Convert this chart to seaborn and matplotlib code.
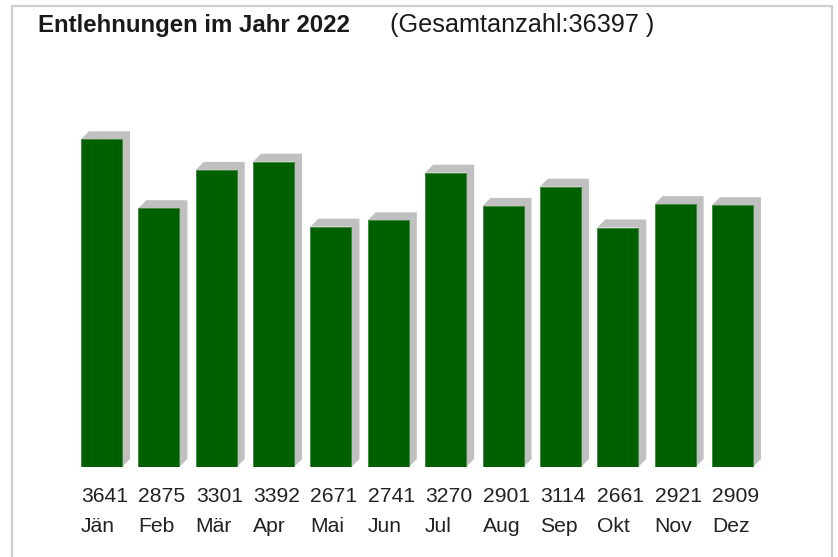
import matplotlib
matplotlib.use("Agg")
import matplotlib.pyplot as plt
import seaborn as sns
import pandas as pd
from matplotlib.patches import Polygon, Rectangle

# Monthly loans 2022
months = ['Jän', 'Feb', 'Mär', 'Apr', 'Mai', 'Jun', 'Jul', 'Aug', 'Sep', 'Okt', 'Nov', 'Dez']
counts = [3641, 2875, 3301, 3392, 2671, 2741, 3270, 2901, 3114, 2661, 2921, 2909]
total = sum(counts)

sns.set_theme(style="white")
plt.rcParams['font.family'] = ['Liberation Sans', 'DejaVu Sans']

W, H = 838, 557
fig = plt.figure(figsize=(W / 100, H / 100), dpi=100)
ax_box = [0.0869, 0.1616, 0.8214, 0.6463]
ax = fig.add_axes(ax_box)

df = pd.DataFrame({'Monat': months, 'Entlehnungen': counts})
sns.barplot(data=df, x='Monat', y='Entlehnungen', color='#006000', saturation=1,
            width=0.715, edgecolor='#3b853b', linewidth=0.6, ax=ax, zorder=3)
ax.set_xlim(-0.5, 11.5)
ax.set_ylim(0, 4000)

# 3D-style gray shadow, offset in pixels converted to data units
dx = 8 * 12 / (ax_box[2] * W)
dy = 8 * 4000 / (ax_box[3] * H)
bars = list(ax.patches)
for p in bars:
    x0 = p.get_x()
    x1 = x0 + p.get_width()
    h = p.get_height()
    shadow = Polygon([(x0, h), (x0 + dx, h + dy), (x1 + dx, h + dy),
                      (x1 + dx, dy), (x1, 0), (x1, h)],
                     closed=True, facecolor='#c0c0c0', edgecolor='none',
                     zorder=2, clip_on=False)
    ax.add_patch(shadow)

# labels under the bars, left-aligned with each bar
for p, m, v in zip(bars, months, counts):
    ax.text(p.get_x(), -0.0986, str(v), transform=ax.get_xaxis_transform(),
            ha='left', va='baseline', fontsize=15.2, color='#222222')
    ax.text(p.get_x(), -0.1806, m, transform=ax.get_xaxis_transform(),
            ha='left', va='baseline', fontsize=15.2, color='#222222')

ax.set_axis_off()

fig.text(38 / W, 1 - 32 / H, 'Entlehnungen im Jahr 2022', fontsize=17.3,
         fontweight='bold', color='#1a1a1a', va='baseline')
fig.text(390 / W, 1 - 32 / H, f'(Gesamtanzahl:{total} )', fontsize=18.2,
         color='#1a1a1a', va='baseline')

# light frame around the chart
frame = Rectangle((12 / W, -0.02), (832 - 12) / W, 1.02 - 6 / H,
                  transform=fig.transFigure, fill=False,
                  edgecolor='#cfcfcf', linewidth=1.6)
fig.add_artist(frame)

fig.savefig('out.png', dpi=100)
